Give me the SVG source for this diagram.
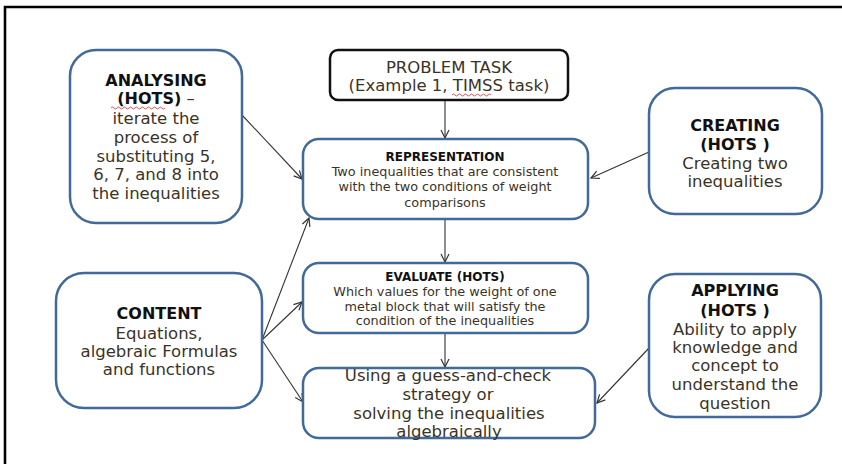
<svg xmlns="http://www.w3.org/2000/svg" width="842" height="464" viewBox="0 0 842 464">
<style>
.box{fill:#fff;stroke:#41699a;stroke-width:2.5}
.pbox{fill:#fff;stroke:#111;stroke-width:2.5}
text{font-family:"DejaVu Sans","Liberation Sans",sans-serif;text-anchor:middle}
.h{font-weight:bold;fill:#111;font-size:16px}
.b{fill:#3b3326;font-size:16.5px}
.hs{font-weight:bold;fill:#111;font-size:12px}
.bs{fill:#3b3326;font-size:12.8px}
.c{fill:none;stroke:#333;stroke-width:1.1}
.sq{fill:none;stroke:#e04040;stroke-width:0.9}
</style>
<defs>
<marker id="ah" markerUnits="userSpaceOnUse" markerWidth="12" markerHeight="12" refX="9" refY="5" orient="auto">
<path d="M1,1 L9,5 L1,9" fill="none" stroke="#333" stroke-width="1.2"/>
</marker>
</defs>
<rect width="842" height="464" fill="#fff"/>
<path d="M5,464 V7 H842" fill="none" stroke="#000" stroke-width="2.6"/>

<g id="connectors">
<line class="c" x1="242" y1="115" x2="302" y2="179" marker-end="url(#ah)"/>
<line class="c" x1="445" y1="100" x2="445" y2="138" marker-end="url(#ah)"/>
<line class="c" x1="649" y1="152" x2="591" y2="178" marker-end="url(#ah)"/>
<line class="c" x1="445" y1="220" x2="445" y2="262" marker-end="url(#ah)"/>
<line class="c" x1="445" y1="334" x2="445" y2="367" marker-end="url(#ah)"/>
<line class="c" x1="262" y1="340" x2="309" y2="218" marker-end="url(#ah)"/>
<line class="c" x1="262" y1="340" x2="302" y2="302" marker-end="url(#ah)"/>
<line class="c" x1="262" y1="340" x2="303" y2="402" marker-end="url(#ah)"/>
<line class="c" x1="649" y1="348" x2="597" y2="403" marker-end="url(#ah)"/>
</g>

<g id="analysing">
<rect class="box" x="70" y="50" width="172" height="173" rx="26"/>
<text class="h" x="156" y="86">ANALYSING</text>
<text x="156" y="104"><tspan class="h">(HOTS)</tspan><tspan class="b"> –</tspan></text>
<path class="sq" d="M111,108 q1.5,-2 3,0 t3,0 t3,0 t3,0 t3,0 t3,0 t3,0 t3,0 t3,0 t3,0 t3,0 t3,0 t3,0 t3,0 t3,0 t3,0 t3,0 t3,0"/>
<text class="b" x="156" y="124">iterate the</text>
<text class="b" x="156" y="143">process of</text>
<text class="b" x="156" y="162">substituting 5,</text>
<text class="b" x="156" y="180">6, 7, and 8 into</text>
<text class="b" x="156" y="199">the inequalities</text>
</g>

<g id="problem">
<rect class="pbox" x="330" y="50" width="238" height="50" rx="8"/>
<text class="b" x="449" y="73">PROBLEM TASK</text>
<text class="b" x="449" y="91">(Example 1, TIMSS task)</text>
<path class="sq" d="M452,95 q1.5,-2 3,0 t3,0 t3,0 t3,0 t3,0 t3,0 t3,0 t3,0 t3,0 t3,0 t3,0 t3,0 t3,0"/>
</g>

<g id="representation">
<rect class="box" x="303" y="139" width="285" height="80" rx="16"/>
<text class="hs" x="445" y="161">REPRESENTATION</text>
<text class="bs" x="445" y="176">Two inequalities  that are consistent</text>
<text class="bs" x="445" y="191">with the two conditions  of weight</text>
<text class="bs" x="445" y="207">comparisons</text>
</g>

<g id="creating">
<rect class="box" x="649" y="88" width="173" height="126" rx="26"/>
<text class="h" x="735" y="131">CREATING</text>
<text class="h" x="735" y="150">(HOTS )</text>
<text class="b" x="735" y="169">Creating two</text>
<text class="b" x="735" y="187">inequalities</text>
</g>

<g id="content">
<rect class="box" x="56" y="273" width="206" height="135" rx="28"/>
<text class="h" x="159" y="319">CONTENT</text>
<text class="b" x="159" y="339">Equations,</text>
<text class="b" x="159" y="357">algebraic Formulas</text>
<text class="b" x="159" y="375">and functions</text>
</g>

<g id="evaluate">
<rect class="box" x="303" y="263" width="285" height="70" rx="16"/>
<text class="hs" x="445" y="281">EVALUATE (HOTS)</text>
<text class="bs" x="445" y="296">Which values for the weight of one</text>
<text class="bs" x="445" y="311">metal block that will satisfy the</text>
<text class="bs" x="445" y="325">condition of the inequalities</text>
</g>

<g id="strategy">
<rect class="box" x="303" y="368" width="292" height="70" rx="16"/>
<text class="b" x="448" y="381">Using a guess-and-check</text>
<text class="b" x="448" y="400">strategy or</text>
<text class="b" x="449" y="419">solving the inequalities</text>
<text class="b" x="449" y="437">algebraically</text>
</g>

<g id="applying">
<rect class="box" x="649" y="274" width="172" height="143" rx="26"/>
<text class="h" x="735" y="296">APPLYING</text>
<text class="h" x="735" y="316">(HOTS )</text>
<text class="b" x="735" y="335">Ability to apply</text>
<text class="b" x="735" y="353">knowledge and</text>
<text class="b" x="735" y="371">concept to</text>
<text class="b" x="735" y="390">understand the</text>
<text class="b" x="735" y="409">question</text>
</g>
</svg>
